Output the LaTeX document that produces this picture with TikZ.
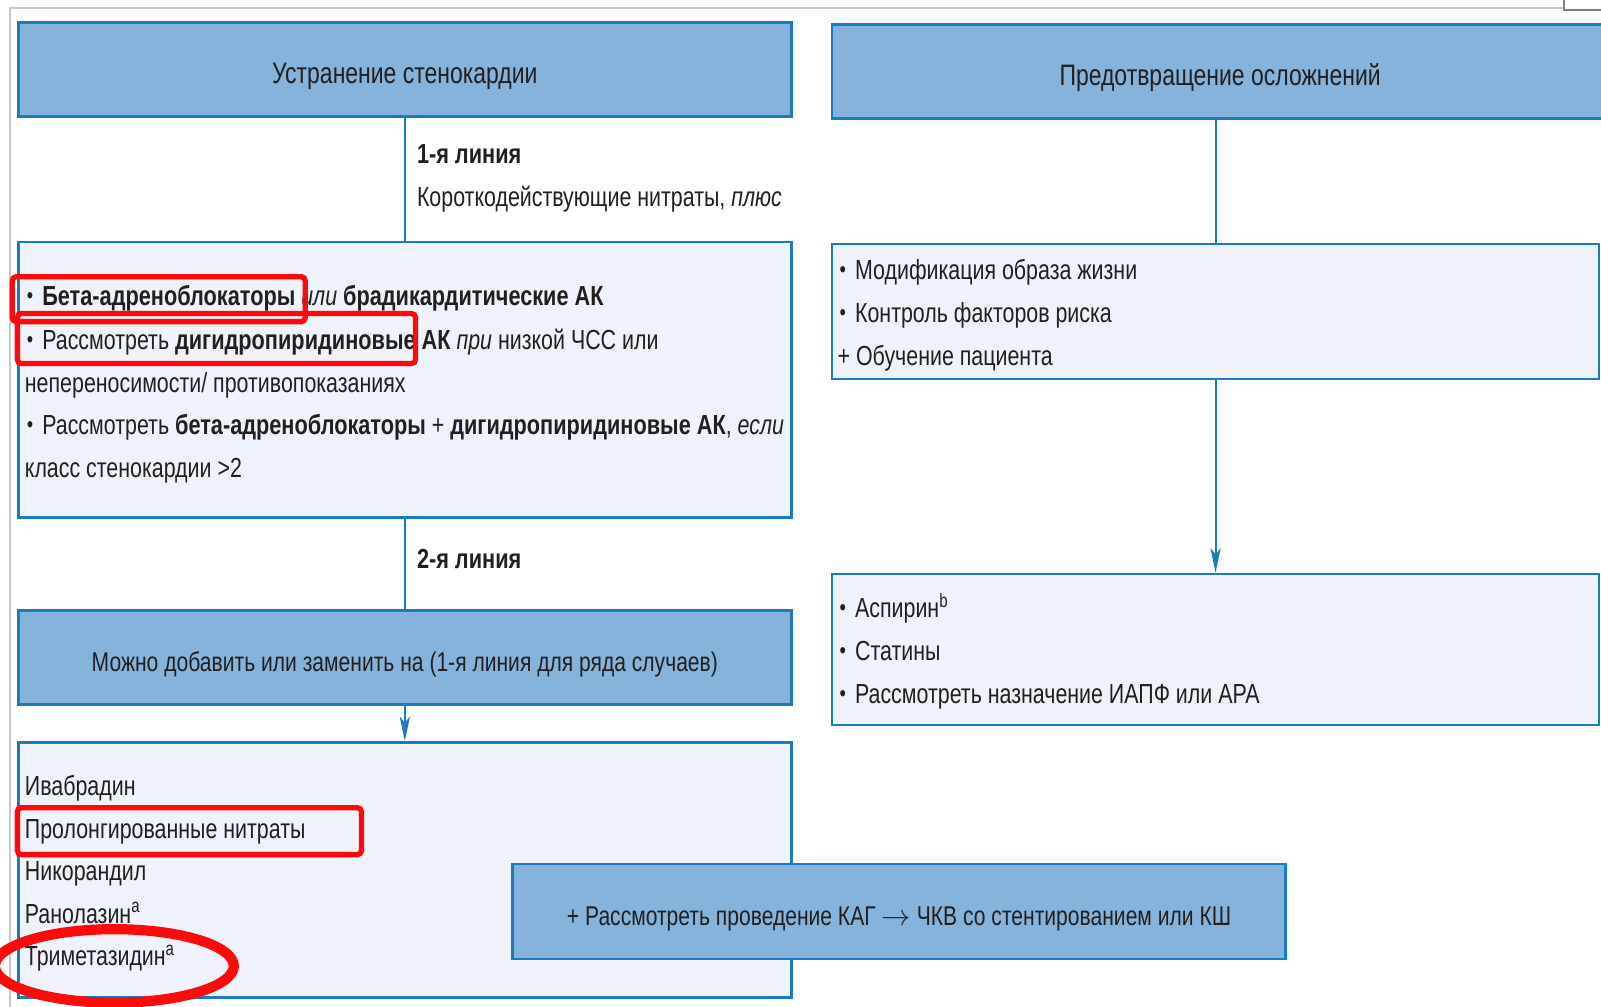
\documentclass[tikz,border=0pt]{standalone}
\usepackage{fontspec}
\usepackage{graphicx}
\setmainfont{Liberation Sans}[FakeStretch=0.776, BoldFeatures={FakeStretch=0.788}]
\usetikzlibrary{arrows.meta,shapes.geometric}
\definecolor{hdrblue}{HTML}{86B3DC}
\definecolor{bord}{HTML}{1A7CC0}
\definecolor{lightbg}{HTML}{EEF3FB}
\definecolor{txt}{HTML}{231F20}
\definecolor{annot}{HTML}{FF0A0A}
\definecolor{frame}{HTML}{C8C8C8}
\newcommand{\bul}{\hspace{1pt}\raisebox{.15ex}{\scalebox{.85}{•}}\hspace{1.5pt}\ }
\begin{document}
\begin{tikzpicture}[x=0.5pt,y=-0.5pt,
  every node/.style={font=\fontsize{13.5}{16}\selectfont, text=txt},
  bluebox/.style={draw=bord, line width=1.2pt, fill=hdrblue, inner sep=0pt, text height=15.5pt, text depth=1.8pt},
  hdrfont/.style={font=\fontsize{14.5}{17}\selectfont},
  boxfont/.style={font=\fontsize{13.3}{16}\selectfont},
  lightbox/.style={draw=bord, line width=1.2pt, fill=lightbg, inner sep=0pt},
  tl/.style={anchor=west, inner sep=0pt, text height=10.5pt, text depth=2.5pt},
  conn/.style={draw=bord, line width=1pt},
  tip/.style={-{Stealth[length=12pt,width=5pt,inset=3pt]}},
  redbox/.style={draw=annot, line width=2.6pt, rounded corners=2pt, inner sep=0pt},
  redell/.style={draw=annot, line width=5pt, ellipse, inner sep=0pt}
]
\useasboundingbox (0,0) rectangle (1568,986);
% gray page frame
\draw[frame, line width=1pt] (10,986) -- (10,8) -- (1532,8);
\draw[gray, line width=1pt] (1532,0) -- (1532,10) -- (1568,10);

% left column boxes
\node[bluebox, hdrfont, minimum width=378.5pt, minimum height=46pt] (hL) at (396.5,68) {Устранение стенокардии};
\node[lightbox, minimum width=378.5pt, minimum height=135pt] (b2) at (396.5,372) {};
\node[bluebox, boxfont, minimum width=378.5pt, minimum height=46pt] (b3) at (396.5,644) {Можно добавить или заменить на (1-я линия для ряда случаев)};
\node[lightbox, minimum width=378.5pt, minimum height=125pt] (b4) at (396.5,852) {};
\node[bluebox, boxfont, minimum width=378.5pt, minimum height=46.5pt] (b5) at (880.5,892.5) {+ Рассмотреть проведение КАГ $\rightarrow$ ЧКВ со стентированием или КШ};

% right column boxes
\node[bluebox, hdrfont, minimum width=380pt, minimum height=46pt] (hR) at (1195,70) {Предотвращение осложнений};
\node[lightbox, minimum width=375.5pt, minimum height=66pt] (r2) at (1190.5,305) {};
\node[lightbox, minimum width=375.5pt, minimum height=74pt] (r3) at (1190.5,636) {};

% connectors
\draw[conn] (hL.south) -- (b2.north);
\draw[conn] (b2.south) -- (b3.north);
\draw[conn, tip] (b3.south) -- (b4.north);
\draw[conn] (hR.south -| r2.north) -- (r2.north);
\draw[conn, tip] (r2.south) -- (r3.north);

% labels on connectors
\node[tl] (l1a) at (408,152) {\textbf{1-я линия}};
\node[tl] (l1b) at (408,194) {Короткодействующие нитраты, \textit{плюс}};
\node[tl] (l2) at (408,549) {\textbf{2-я линия}};

% text of b2
\node[tl] (t21) at (24,291) {\bul\textbf{Бета-адреноблокаторы} \textit{или} \textbf{брадикардитические АК}};
\node[tl] (t22) at (24,334) {\bul Рассмотреть \textbf{дигидропиридиновые АК} \textit{при} низкой ЧСС или};
\node[tl] (t23) at (24,376) {непереносимости/ противопоказаниях};
\node[tl] (t24) at (24,418) {\bul Рассмотреть \textbf{бета-адреноблокаторы} + \textbf{дигидропиридиновые АК}, \textit{если}};
\node[tl] (t25) at (24,460) {класс стенокардии >2};

% text of b4
\node[tl] (t41) at (24,771) {Ивабрадин};
\node[tl] (t42) at (24,813) {Пролонгированные нитраты};
\node[tl] (t43) at (24,854) {Никорандил};
\node[tl] (t44) at (24,896) {Ранолазин\textsuperscript{a}};
\node[tl] (t45) at (24,938) {Триметазидин\textsuperscript{a}};

% text of r2
\node[tl] (s21) at (820,266) {\bul Модификация образа жизни};
\node[tl] (s22) at (820,308) {\bul Контроль факторов риска};
\node[tl] (s23) at (820,350) {+ Обучение пациента};

% text of r3
\node[tl] (s31) at (820,597) {\bul Аспирин\textsuperscript{b}};
\node[tl] (s32) at (820,639) {\bul Статины};
\node[tl] (s33) at (820,681) {\bul Рассмотреть назначение ИАПФ или АРА};

% red annotations
\node[redbox, minimum width=143.5pt, minimum height=22pt] (m1) at (155.5,293) {};
\node[redbox, minimum width=195pt, minimum height=24.5pt] (m2) at (212,331.5) {};
\node[redbox, minimum width=168.5pt, minimum height=23pt] (m3) at (185.5,814) {};
\node[redell, minimum width=117pt, minimum height=36pt] (m4) at (112,946) {};
\end{tikzpicture}
\end{document}
